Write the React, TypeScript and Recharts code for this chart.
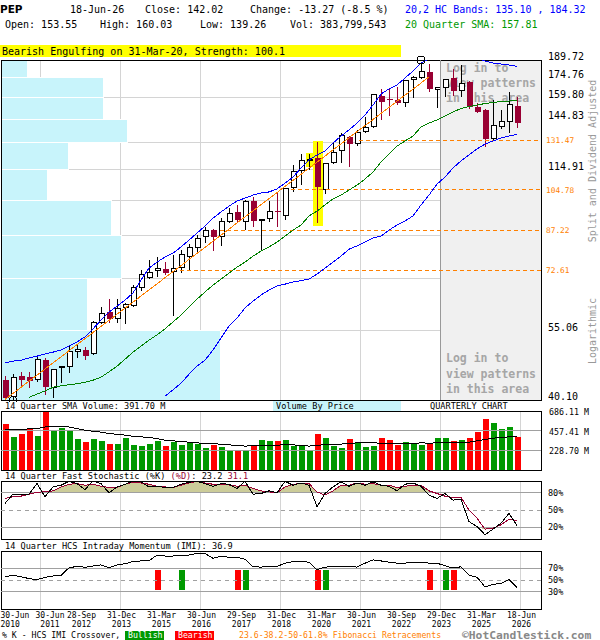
import React from 'react';
import {
  ComposedChart, Bar, Line, Area, XAxis, YAxis, CartesianGrid,
  ReferenceArea, ReferenceLine, ReferenceDot,
} from 'recharts';

const FONT = '"DejaVu Sans Mono", "Liberation Mono", monospace';

// ---------- categories ----------
const quarterEnds = [
  '30-Jun-10','30-Sep-10','31-Dec-10',
  '31-Mar-11','30-Jun-11','30-Sep-11','30-Dec-11',
  '30-Mar-12','29-Jun-12','28-Sep-12','31-Dec-12',
  '28-Mar-13','28-Jun-13','30-Sep-13','31-Dec-13',
  '31-Mar-14','30-Jun-14','30-Sep-14','31-Dec-14',
  '31-Mar-15','30-Jun-15','30-Sep-15','31-Dec-15',
  '31-Mar-16','30-Jun-16','30-Sep-16','30-Dec-16',
  '31-Mar-17','30-Jun-17','29-Sep-17','29-Dec-17',
  '29-Mar-18','29-Jun-18','28-Sep-18','31-Dec-18',
  '29-Mar-19','28-Jun-19','30-Sep-19','31-Dec-19',
  '31-Mar-20','30-Jun-20','30-Sep-20','31-Dec-20',
  '31-Mar-21','30-Jun-21','30-Sep-21','31-Dec-21',
  '31-Mar-22','30-Jun-22','30-Sep-22','30-Dec-22',
  '31-Mar-23','30-Jun-23','29-Sep-23','29-Dec-23',
  '28-Mar-24','28-Jun-24','30-Sep-24','31-Dec-24',
  '31-Mar-25','30-Jun-25','30-Sep-25','31-Dec-25',
  '31-Mar-26','18-Jun-26',
];

// ---------- OHLC (split & dividend adjusted) ----------
const opens = [
  43.9, 40.7, 44.8, 44.6, 43.9, 48.1, 42.4, 46.5, 46.6, 49.9,
  50.4, 49.5, 56.9, 59.9, 58.0, 61.2, 61.6, 66.8, 69.9, 72.3,
  72.9, 72.1, 73.2, 77.0, 80.3, 84.3, 87.2, 84.3, 90.6, 94.6,
  90.3, 99.6, 90.9, 91.7, 95.2, 93.1, 105.5, 114.2, 119.6, 121.0,
  104.7, 118.3, 125.3, 133.6, 129.0, 136.3, 139.9, 161.2, 158.5, 158.0,
  155.6, 172.9, 174.5, 179.8, 165.4, 166.7, 174.5, 164.9, 171.8, 152.8,
  151.0, 132.0, 139.9, 143.1, 153.55,
];
const highs = [
  44.8, 45.1, 45.6, 45.6, 48.7, 48.5, 46.3, 46.9, 51.5, 51.5,
  51.2, 57.6, 61.4, 63.6, 63.5, 62.4, 67.8, 72.5, 76.0, 77.0,
  75.2, 77.8, 79.6, 81.8, 85.2, 88.3, 87.6, 92.0, 96.6, 97.8,
  100.0, 101.5, 91.9, 99.6, 103.9, 105.7, 117.4, 123.3, 123.3, 130.2,
  118.5, 129.6, 135.7, 134.0, 137.8, 146.4, 162.4, 165.9, 166.7, 167.9,
  173.5, 176.0, 187.5, 186.0, 168.0, 174.0, 181.8, 185.4, 172.2, 155.6,
  151.5, 158.0, 151.0, 164.1, 160.03,
];
const lows = [
  40.2, 40.1, 42.3, 42.3, 43.6, 41.0, 40.5, 43.4, 45.4, 48.5,
  48.1, 49.3, 56.8, 56.9, 57.0, 56.7, 61.4, 66.0, 69.6, 70.4,
  71.0, 58.9, 71.7, 72.6, 79.0, 82.3, 79.3, 81.1, 90.1, 90.6,
  87.2, 88.3, 79.6, 90.3, 88.5, 91.3, 104.0, 107.1, 114.7, 89.9,
  102.7, 118.0, 118.3, 116.5, 128.2, 136.0, 138.8, 144.2, 146.9, 154.4,
  153.2, 159.7, 173.9, 164.1, 152.1, 160.4, 160.9, 160.4, 151.4, 148.7,
  127.6, 131.6, 138.2, 136.1, 139.26,
];
const closes = [
  40.5, 44.5, 43.9, 43.8, 48.3, 42.6, 46.1, 46.8, 50.2, 50.6,
  49.1, 57.2, 59.6, 58.2, 61.2, 62.2, 67.3, 71.3, 71.9, 73.2,
  71.7, 73.2, 78.1, 80.6, 84.0, 87.2, 84.3, 90.9, 94.1, 91.3,
  99.6, 91.0, 91.7, 95.1, 94.7, 105.5, 114.2, 120.1, 120.9, 106.3,
  118.3, 124.8, 134.7, 129.0, 136.3, 139.5, 162.2, 156.8, 157.8, 155.6,
  173.1, 175.8, 180.4, 165.9, 167.7, 173.7, 164.9, 170.5, 152.8, 149.8,
  132.0, 140.9, 143.5, 155.3, 142.02,
];

// ---------- overlays ----------
const hcUpper = [
  47.5, 47.9, 48.1, 48.6, 49.0, 49.5, 49.9, 50.4, 51.3, 52.3,
  53.5, 55.5, 57.8, 59.9, 61.6, 63.3, 65.4, 69.4, 73.3, 75.3,
  77.1, 78.5, 80.7, 83.3, 86.0, 88.8, 92.1, 94.7, 97.3, 99.6,
  100.9, 102.3, 103.3, 103.8, 105.2, 108.1, 111.1, 115.8, 120.1, 122.9,
  125.2, 129.8, 134.0, 137.8, 142.2, 147.5, 154.4, 162.4, 166.2, 169.2,
  174.7, 180.4, 187.1, 190.6, 192.3, 193.2, 193.7, 193.7, 193.2, 191.5,
  188.9, 187.1, 186.3, 185.4, 184.32,
];
const hcLower = [
  null, null, null, null, null, null, null, null, null, null,
  null, null, null, null, null, null, null, null, null, null,
  40.8, 42.0, 43.3, 45.1, 46.8, 48.1, 50.4, 53.2, 56.2, 58.3,
  61.1, 63.0, 64.8, 66.3, 67.5, 68.1, 68.8, 69.2, 69.7, 71.3,
  73.3, 75.3, 77.4, 79.9, 81.1, 82.5, 84.1, 84.8, 87.2, 89.2,
  90.9, 93.0, 97.8, 102.3, 107.6, 111.1, 115.8, 119.6, 122.9, 126.3,
  129.2, 131.0, 132.8, 134.0, 135.10,
];
const sma20 = [
  null, null, null, 40.6, 41.2, 41.8, 42.5, 42.8, 43.0, 43.2,
  43.5, 43.9, 44.5, 45.6, 46.8, 48.3, 49.9, 51.3, 52.7, 54.0,
  55.5, 57.3, 59.1, 61.3, 63.6, 65.7, 67.8, 69.7, 71.6, 73.6,
  75.3, 77.4, 79.2, 80.7, 82.5, 84.8, 87.2, 89.2, 93.0, 95.1,
  97.8, 100.5, 102.3, 104.7, 107.1, 110.1, 113.7, 119.0, 123.4, 128.0,
  131.0, 134.0, 139.7, 142.2, 144.2, 146.9, 149.6, 152.0, 153.4, 154.4,
  155.5, 156.2, 156.9, 157.3, 157.81,
];
const trendFrom = { i: 0, price: 40.2 };
const trendTo = { i: 53, price: 175.6 };

const fibLevels = [131.47, 104.78, 87.22, 72.61];
const fibStarts = [44.3, 35.8, 26.9, 21.9];

const gridPrices = [40.10, 55.06, 70.03, 84.99, 99.95, 114.91, 129.87, 144.83, 159.80, 174.76, 189.72];
const priceLabels = [40.10, 55.06, 114.91, 144.83, 159.80, 174.76, 189.72];
// volume by price per band (bottom band first), relative share volume (full scale = 540)
const vbpVolume = [219, 86, 120, 110, 46, 67, 126, 102, 102, 26];
const VBP_FULL = 540;

const highlights: Record<number, [number, number]> = { 38: [116.5, 123.8], 39: [88.9, 131.0] };
const highMark = { i: 52, price: 189.72 };
const lowMark = { i: 1, price: 40.10 };

// ---------- volume (millions) ----------
const volumes = [
  532, 385, 420, 478, 397, 680, 463, 490, 455, 359,
  324, 359, 336, 305, 305, 370, 293, 282, 305, 336,
  282, 328, 293, 324, 305, 255, 293, 266, 223, 223,
  231, 293, 347, 339, 339, 347, 282, 282, 231, 417,
  370, 278, 255, 359, 324, 266, 278, 370, 347, 289,
  324, 312, 289, 309, 370, 370, 336, 347, 370, 440,
  590, 544, 474, 497, 384,
];
const volumeSma = [
  471, 471, 472, 478, 480, 501, 505, 505, 500, 482,
  463, 451, 440, 424, 416, 405, 393, 386, 378, 366,
  347, 339, 332, 324, 316, 309, 305, 301, 293, 285,
  278, 282, 282, 285, 289, 293, 293, 285, 278, 285,
  297, 301, 301, 309, 316, 316, 316, 312, 312, 309,
  309, 309, 316, 312, 316, 316, 316, 320, 324, 339,
  355, 370, 378, 386, 391.7,
];
const volumeTicks = [228.70, 457.41, 686.11];

// ---------- stochastic ----------
const stochK = [
  61.4, 77.3, 77.3, 77.3, 95.5, 72.8, 89.8, 92.7, 99.5, 95.5,
  85.3, 100, 95.5, 79.6, 89.8, 94.4, 99.5, 98.4, 89.8, 91,
  88.7, 88.7, 94.4, 97.8, 99.5, 95.5, 91, 95.5, 94.4, 87,
  99.5, 77.3, 78.4, 83, 79.6, 99.5, 92.7, 96.6, 92.7, 55.7,
  78.4, 89.8, 98.4, 91, 96.6, 92.7, 98.4, 92.7, 91, 83,
  94.4, 96.6, 91, 75.6, 69.9, 78.4, 67.1, 68.2, 30.1, 21.6,
  7.3, 17, 27.3, 44.3, 23.2,
];
const stochD = [
  69.9, 72.8, 73.9, 77.3, 80.7, 81.3, 83, 89.8, 94.4, 95.5,
  92.7, 94.4, 91, 88.7, 88.7, 94.4, 97.8, 96.6, 94.4, 91,
  89.8, 88.7, 92.7, 96.6, 99.5, 96.6, 94.4, 94.4, 93.2, 91,
  92.7, 87, 83, 81.3, 79.6, 89.8, 94.4, 95.5, 95.5, 81.3,
  75.6, 83, 92.7, 92.7, 96.6, 94.4, 95.5, 92.7, 92.7, 88.7,
  91, 92.7, 92.7, 83, 78.4, 73.9, 71.6, 71.6, 50, 35.8,
  17, 18.7, 24.4, 34.1, 31.1,
];

// ---------- intraday momentum ----------
const imi = [
  55.5, 58, 55.5, 52.5, 50.5, 54.5, 57, 58, 71, 73.5,
  72, 74, 76, 71, 76, 78, 81.8, 82.9, 82.9, 93,
  91.3, 91.3, 93, 93, 95.8, 95.8, 87.4, 91.3, 89.1, 89.1,
  85.7, 72.8, 72.3, 73.4, 73.4, 79, 81.8, 81.8, 80.7, 67.8,
  72.3, 72.8, 72.8, 73.4, 72.3, 79, 84.6, 82.9, 80.7, 79,
  79, 80.7, 80.7, 79, 79, 74.5, 70.6, 72.8, 58.2, 54.9,
  38, 42.5, 44.2, 50.9, 36.9,
];
const crossIdx = [19, 22, 29, 30, 39, 40, 53, 55, 56];
const crossType = ['bear', 'bull', 'bear', 'bull', 'bear', 'bull', 'bear', 'bull', 'bear'];
const crossBand: [number, number] = [32, 67];

// ---------- axis labels ----------
const labelIdx = [0, 4, 9, 14, 19, 24, 29, 34, 39, 44, 49, 54, 59, 64];
const TICK_SHIFT = 0.375;
const X_DOMAIN: [number, number] = [-0.5, 67];
const lockedFromLabel = 11; // 29-Dec-2023

const gridTicks = labelIdx.slice(1).map((i) => i + TICK_SHIFT);
const labelTicks = labelIdx.map((i) => i + TICK_SHIFT);

const GREEN = '#009900';
const RED = '#ff0000';
const CANDLE_RED = '#990033';
const ORANGE = '#ff8000';
const GRID = '#d4d4d4';
const PANEL_LINE = '#a0a0a0';

const rows = quarterEnds.map((q, i) => {
  const ci = crossIdx.indexOf(i);
  return {
    i, q,
    open: opens[i], high: highs[i], low: lows[i], close: closes[i],
    range: [lows[i], highs[i]],
    up: closes[i] >= opens[i],
    hl: highlights[i] ?? null,
    vol: volumes[i], volSma: volumeSma[i],
    upper: hcUpper[i], lower: hcLower[i], sma: sma20[i],
    trend: i === trendFrom.i ? trendFrom.price : i === trendTo.i ? trendTo.price : null,
    k: stochK[i], d: stochD[i],
    fillHi: [80, Math.max(80, stochD[i])],
    fillLo: [Math.min(20, stochD[i]), 20],
    imi: imi[i],
    cross: ci >= 0 ? crossBand : null,
    crossColor: ci >= 0 ? (crossType[ci] === 'bull' ? GREEN : RED) : null,
  };
});

// ---------- shapes ----------
const Candle = (p: any) => {
  const { x, y, width, height, payload } = p;
  if (!payload || height == null || isNaN(y)) return null;
  const { open, close, high, low, hl, up } = payload;
  const lh = Math.log(high);
  const ll = Math.log(low);
  const py = (v: number) => y + ((lh - Math.log(v)) / (lh - ll)) * height;
  const cx = Math.round(x + width / 2);
  const top = Math.round(py(Math.max(open, close)));
  const bot = Math.round(py(Math.min(open, close)));
  const col = up ? '#000' : CANDLE_RED;
  const hlw = payload.i === 39 ? 10 : 8;
  return (
    <g>
      {hl && (
        <rect x={cx + 1 - hlw / 2} y={py(hl[1])} width={hlw} height={py(hl[0]) - py(hl[1])} fill="#ffff00" />
      )}
      <line x1={cx + 0.5} x2={cx + 0.5} y1={Math.round(y)} y2={Math.round(y + height)} stroke={col} strokeWidth={1} />
      {up ? (
        <rect x={cx - 1.5} y={top + 0.5} width={5} height={Math.max(bot - top - 1, 0.5)} fill="#fff" stroke="#000" strokeWidth={1} />
      ) : (
        <rect x={cx - 2} y={top} width={6} height={Math.max(bot - top, 1)} fill={col} />
      )}
    </g>
  );
};

const VolBar = (p: any) => {
  const { x, y, width, height, payload } = p;
  if (!payload || height == null || isNaN(y)) return null;
  const cx = Math.round(x + width / 2);
  const t = Math.round(y);
  return <rect x={cx - 2} y={t} width={6} height={Math.round(y + height) - t} fill={payload.up ? GREEN : RED} />;
};

const CrossBar = (p: any) => {
  const { x, y, width, height, payload } = p;
  if (!payload || !payload.cross || height == null || isNaN(y)) return null;
  const cx = Math.round(x + width / 2);
  const t = Math.round(y);
  return <rect x={cx - 2} y={t} width={6} height={Math.round(y + height) - t} fill={payload.crossColor} />;
};

const LoginLabel = (props: any) => {
  const vb = props.viewBox || {};
  if (vb.x == null) return null;
  const x = vb.x + 6;
  const lines = ['Log in to', 'view patterns', 'in this area'];
  const st: any = { fontFamily: FONT, fontSize: 11.5, fontWeight: 'bold', fill: '#a6a6a6' };
  return (
    <g>
      {lines.map((t, k) => (
        <text key={'a' + k} x={x} y={vb.y + 12 + 15 * k} {...st}>{t}</text>
      ))}
      {lines.map((t, k) => (
        <text key={'b' + k} x={x} y={vb.y + vb.height - 38 + 15.5 * k} {...st}>{t}</text>
      ))}
    </g>
  );
};

const PriceTick = (p: any) => (
  <text x={p.x + 7} y={p.y} fontFamily={FONT} fontSize={10} fill="#000">
    {Number(p.payload.value).toFixed(2)}
  </text>
);
const VolTick = (p: any) => (
  <text x={p.x + 8} y={p.y + 4} fontFamily={FONT} fontSize={8.3} fill="#000">
    {Number(p.payload.value).toFixed(2) + ' M'}
  </text>
);
const PctTick = (p: any) => (
  <text x={p.x + 7} y={p.y + 3} fontFamily={FONT} fontSize={8.5} fill="#000">
    {p.payload.value + '%'}
  </text>
);
const DateTick = (p: any) => {
  const idx = p.index;
  const q = quarterEnds[labelIdx[idx]];
  if (!q) return null;
  const [d, m, yy] = q.split('-');
  let x = p.x + 1.5;
  let anchor: any = 'middle';
  if (idx === 0) { x = p.x - 7.5; anchor = 'start'; }
  if (idx === 1) x = p.x + 10;
  return (
    <text fontFamily={FONT} fontSize={8} textAnchor={anchor} fill="#000">
      <tspan x={x} y={p.y + 9}>{`${d}-${m}`}</tspan>
      <tspan x={x} y={p.y + 17.5}>{'20' + yy}</tspan>
    </text>
  );
};

const PRICE_DOMAIN: [number, number] = [gridPrices[0], gridPrices[gridPrices.length - 1]];
const vbpToX = (v: number) => X_DOMAIN[0] + (v / VBP_FULL) * (X_DOMAIN[1] - X_DOMAIN[0]);

function PriceChart() {
  return (
    <ComposedChart width={600} height={402} data={rows} margin={{ top: 60, right: 0, bottom: 2, left: 1 }}>
      <XAxis xAxisId="x" dataKey="i" type="number" domain={X_DOMAIN} ticks={gridTicks} allowDataOverflow hide />
      <YAxis yAxisId="g" type="number" scale="log" domain={PRICE_DOMAIN} ticks={gridPrices} allowDataOverflow hide />
      <YAxis
        yAxisId="p" orientation="right" width={59} type="number" scale="log" domain={PRICE_DOMAIN}
        ticks={priceLabels} allowDataOverflow axisLine={false} tickLine={false} tickSize={0} tickMargin={0}
        interval={0} tick={<PriceTick />}
      />
      <ReferenceArea
        xAxisId="x" yAxisId="p" x1={labelTicks[lockedFromLabel]} x2={X_DOMAIN[1]}
        y1={PRICE_DOMAIN[0]} y2={PRICE_DOMAIN[1]} fill="#f0f0f0" fillOpacity={1} stroke="none"
        label={<LoginLabel />}
      />
      {vbpVolume.map((v, k) => (
        <ReferenceArea
          key={'vbp' + k} xAxisId="x" yAxisId="p" x1={X_DOMAIN[0]} x2={vbpToX(v)}
          y1={gridPrices[k]} y2={gridPrices[k + 1]} fill="#c8f4fb" fillOpacity={1} stroke="#ffffff" strokeWidth={1}
          ifOverflow="visible"
        />
      ))}
      <CartesianGrid xAxisId="x" yAxisId="g" stroke={GRID} />
      <ReferenceLine xAxisId="x" yAxisId="p" x={labelTicks[lockedFromLabel]} stroke="#999" />
      {fibLevels.map((lv, k) => (
        <ReferenceLine
          key={'fib' + k} xAxisId="x" yAxisId="p"
          segment={[{ x: fibStarts[k], y: lv }, { x: X_DOMAIN[1], y: lv }]}
          stroke={ORANGE} strokeDasharray="4 3"
          label={{ value: lv.toFixed(2), position: 'right', fill: ORANGE, fontSize: 7.8, fontFamily: FONT, offset: 5 }}
        />
      ))}
      <Line xAxisId="x" yAxisId="p" dataKey="sma" stroke="#008000" strokeWidth={1} dot={false} activeDot={false} isAnimationActive={false} type="linear" />
      <Line xAxisId="x" yAxisId="p" dataKey="upper" stroke="#0000ff" strokeWidth={1} dot={false} activeDot={false} isAnimationActive={false} type="linear" />
      <Line xAxisId="x" yAxisId="p" dataKey="lower" stroke="#0000ff" strokeWidth={1} dot={false} activeDot={false} isAnimationActive={false} type="linear" />
      <Line xAxisId="x" yAxisId="p" dataKey="trend" stroke={ORANGE} strokeWidth={1} dot={false} activeDot={false} connectNulls isAnimationActive={false} type="linear" />
      <Bar xAxisId="x" yAxisId="p" dataKey="range" barSize={6} shape={<Candle />} isAnimationActive={false} />
      <ReferenceDot xAxisId="x" yAxisId="p" x={highMark.i} y={highMark.price} r={4} fill="none" stroke="#000" ifOverflow="visible" />
      <ReferenceDot xAxisId="x" yAxisId="p" x={lowMark.i} y={lowMark.price} r={3.5} fill="none" stroke="#000" ifOverflow="visible" />
      <ReferenceArea xAxisId="x" yAxisId="p" x1={X_DOMAIN[0]} x2={X_DOMAIN[1]} y1={PRICE_DOMAIN[0]} y2={PRICE_DOMAIN[1]} fill="none" stroke="#000" />
    </ComposedChart>
  );
}

function VolumeChart() {
  return (
    <ComposedChart width={600} height={72} data={rows} margin={{ top: 11, right: 0, bottom: 2, left: 1 }}>
      <XAxis xAxisId="x" dataKey="i" type="number" domain={X_DOMAIN} ticks={gridTicks} allowDataOverflow hide />
      <YAxis
        yAxisId="v" orientation="right" width={59} type="number" domain={[0, volumeTicks[2]]}
        ticks={volumeTicks} allowDataOverflow axisLine={false} tickLine={false} tickSize={0} tickMargin={0}
        interval={0} tick={<VolTick />}
      />
      <CartesianGrid xAxisId="x" yAxisId="v" stroke={GRID} horizontal={false} />
      <ReferenceLine xAxisId="x" yAxisId="v" y={volumeTicks[0]} stroke={PANEL_LINE} />
      <ReferenceLine xAxisId="x" yAxisId="v" y={volumeTicks[1]} stroke={PANEL_LINE} />
      <Bar xAxisId="x" yAxisId="v" dataKey="vol" barSize={6} shape={<VolBar />} isAnimationActive={false} />
      <Line xAxisId="x" yAxisId="v" dataKey="volSma" stroke="#000" strokeWidth={1} dot={false} activeDot={false} isAnimationActive={false} type="linear" />
      <ReferenceArea xAxisId="x" yAxisId="v" x1={X_DOMAIN[0]} x2={X_DOMAIN[1]} y1={0} y2={volumeTicks[2]} fill="none" stroke="#000" />
    </ComposedChart>
  );
}

function StochChart() {
  return (
    <ComposedChart width={600} height={72} data={rows} margin={{ top: 11, right: 0, bottom: 3, left: 1 }}>
      <XAxis xAxisId="x" dataKey="i" type="number" domain={X_DOMAIN} ticks={gridTicks} allowDataOverflow hide />
      <YAxis
        yAxisId="s" orientation="right" width={59} type="number" domain={[0, 100]}
        ticks={[20, 50, 80]} allowDataOverflow axisLine={false} tickLine={false} tickSize={0} tickMargin={0}
        interval={0} tick={<PctTick />}
      />
      <CartesianGrid xAxisId="x" yAxisId="s" stroke={GRID} horizontal={false} />
      <Area xAxisId="x" yAxisId="s" dataKey="fillHi" stroke="none" fill="#cccc99" fillOpacity={1} isAnimationActive={false} type="linear" activeDot={false} />
      <Area xAxisId="x" yAxisId="s" dataKey="fillLo" stroke="none" fill="#cccc99" fillOpacity={1} isAnimationActive={false} type="linear" activeDot={false} />
      <ReferenceLine xAxisId="x" yAxisId="s" y={80} stroke={PANEL_LINE} />
      <ReferenceLine xAxisId="x" yAxisId="s" y={50} stroke={PANEL_LINE} strokeDasharray="4 4" />
      <ReferenceLine xAxisId="x" yAxisId="s" y={20} stroke={PANEL_LINE} />
      <Line xAxisId="x" yAxisId="s" dataKey="d" stroke={CANDLE_RED} strokeWidth={1} dot={false} activeDot={false} isAnimationActive={false} type="linear" />
      <Line xAxisId="x" yAxisId="s" dataKey="k" stroke="#000" strokeWidth={1} dot={false} activeDot={false} isAnimationActive={false} type="linear" />
      <ReferenceArea xAxisId="x" yAxisId="s" x1={X_DOMAIN[0]} x2={X_DOMAIN[1]} y1={0} y2={100} fill="none" stroke="#000" />
    </ComposedChart>
  );
}

function MomentumChart() {
  return (
    <ComposedChart width={600} height={100} data={rows} margin={{ top: 11, right: 0, bottom: 3, left: 1 }}>
      <XAxis xAxisId="x" dataKey="i" type="number" domain={X_DOMAIN} ticks={gridTicks} allowDataOverflow hide />
      <XAxis
        xAxisId="lab" dataKey="i" type="number" domain={X_DOMAIN} ticks={labelTicks} allowDataOverflow
        height={28} axisLine={false} tickLine={false} tickSize={0} tickMargin={0} interval={0} tick={<DateTick />}
      />
      <YAxis
        yAxisId="m" orientation="right" width={59} type="number" domain={[0, 100]}
        ticks={[30, 50, 70]} allowDataOverflow axisLine={false} tickLine={false} tickSize={0} tickMargin={0}
        interval={0} tick={<PctTick />}
      />
      <CartesianGrid xAxisId="x" yAxisId="m" stroke={GRID} horizontal={false} />
      <ReferenceLine xAxisId="x" yAxisId="m" y={70} stroke={PANEL_LINE} />
      <ReferenceLine xAxisId="x" yAxisId="m" y={50} stroke={PANEL_LINE} strokeDasharray="4 4" />
      <ReferenceLine xAxisId="x" yAxisId="m" y={30} stroke={PANEL_LINE} />
      <Bar xAxisId="x" yAxisId="m" dataKey="cross" barSize={6} shape={<CrossBar />} isAnimationActive={false} />
      <Line xAxisId="x" yAxisId="m" dataKey="imi" stroke="#000" strokeWidth={1} dot={false} activeDot={false} isAnimationActive={false} type="linear" />
      <ReferenceArea xAxisId="x" yAxisId="m" x1={X_DOMAIN[0]} x2={X_DOMAIN[1]} y1={0} y2={100} fill="none" stroke="#000" />
    </ComposedChart>
  );
}

function Overlay() {
  const t: any = { fontFamily: FONT, fontSize: 10, fill: '#000' };
  const s: any = { fontFamily: FONT, fontSize: 8.6, fill: '#000' };
  const lg: any = { fontFamily: FONT, fontSize: 8.2 };
  return (
    <svg width={600} height={640} style={{ position: 'absolute', left: 0, top: 0, pointerEvents: 'none' }}>
      <text x={0} y={12.5} fontFamily='"DejaVu Sans", sans-serif' fontWeight="bold" fontSize={10.5} fill="#000">PEP</text>
      <text x={70} y={12.5} {...t}>18-Jun-26</text>
      <text x={145} y={12.5} {...t}>Close: 142.02</text>
      <text x={250} y={12.5} {...t}>Change: -13.27 (-8.5 %)</text>
      <text x={405} y={12.5} {...t} fill="#0000ff">20,2 HC Bands: 135.10 , 184.32</text>
      <text x={5} y={28} {...t}>Open: 153.55</text>
      <text x={100} y={28} {...t}>High: 160.03</text>
      <text x={200} y={28} {...t}>Low: 139.26</text>
      <text x={290} y={28} {...t}>Vol: 383,799,543</text>
      <text x={405} y={28} {...t} fill="#009900">20 Quarter SMA: 157.81</text>

      <rect x={0} y={45} width={401} height={12} fill="#ffff00" />
      <text x={2} y={54.5} {...t}>Bearish Engulfing on 31-Mar-20, Strength: 100.1</text>

      <text transform="translate(596,161) rotate(-90)" textAnchor="middle" fontFamily={FONT} fontSize={10} fill="#999">Split and Dividend Adjusted</text>
      <text transform="translate(596,331) rotate(-90)" textAnchor="middle" fontFamily={FONT} fontSize={10} fill="#999">Logarithmic</text>

      <text x={5} y={408.5} {...s}>14 Quarter SMA Volume: 391.70 M</text>
      <rect x={273} y={401} width={128} height={9.5} fill="#c8f4fb" />
      <text x={276} y={408.5} {...s}>Volume By Price</text>
      <text x={430} y={408.5} {...s}>QUARTERLY CHART</text>

      <text x={5} y={479} {...s}>
        14 Quarter Fast Stochastic (%K) <tspan fill={CANDLE_RED}>(%D)</tspan>: 23.2  <tspan fill={CANDLE_RED}>31.1</tspan>
      </text>
      <text x={5} y={548.5} {...s}>14 Quarter HCS Intraday Momentum (IMI): 36.9</text>

      <text x={2} y={638} {...lg} fill="#000">% K - HCS IMI Crossover,</text>
      <rect x={125} y={630.5} width={38.5} height={9} fill={GREEN} />
      <text x={128} y={638} {...lg} fill="#fff">Bullish</text>
      <rect x={175} y={630.5} width={38.5} height={9} fill={RED} />
      <text x={178} y={638} {...lg} fill="#fff">Bearish</text>
      <text x={239} y={638} {...lg} fill={ORANGE}>23.6-38.2-50-61.8% Fibonacci Retracements</text>
      <text x={462} y={638.5} fontFamily={FONT} fontSize={11.3} fontWeight="bold" fill="#888">©HotCandlestick.com</text>
    </svg>
  );
}

export default function App() {
  return (
    <div className="rc" style={{ position: 'relative', width: 600, height: 640, background: '#fff', overflow: 'hidden' }}>
      <style>{`body{margin:0} .rc svg path, .rc svg line, .rc svg rect, .rc svg circle{shape-rendering:crispEdges}`}</style>
      <div style={{ position: 'absolute', left: 0, top: 0 }}><PriceChart /></div>
      <div style={{ position: 'absolute', left: 0, top: 400 }}><VolumeChart /></div>
      <div style={{ position: 'absolute', left: 0, top: 470 }}><StochChart /></div>
      <div style={{ position: 'absolute', left: 0, top: 540 }}><MomentumChart /></div>
      <Overlay />
    </div>
  );
}
